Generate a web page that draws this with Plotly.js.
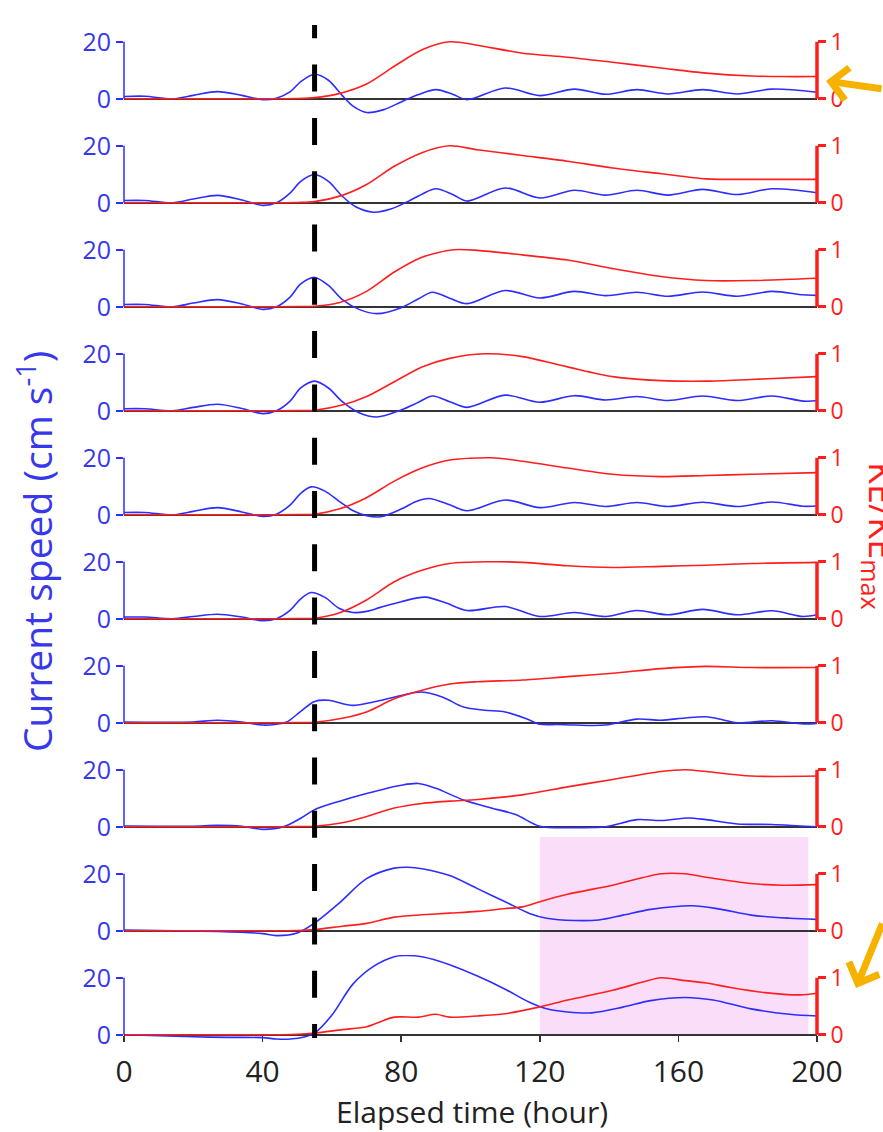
<!DOCTYPE html>
<html>
<head>
<meta charset="utf-8">
<script src="https://cdn.plot.ly/plotly-3.0.1.min.js"></script>
<style>
html,body{margin:0;padding:0;background:#fff;}
#chart{width:883px;height:1132px;}
</style>
</head>
<body>
<div id="chart"></div>
<script>
// ---------------- DATA ----------------
const xTickVals = [0, 40, 80, 120, 160, 200];
const speedTicks = [0, 20];
const keTicks = [0, 1];
const eventHour = 55;          // dashed line
const shadeStart = 120, shadeEnd = 197.5;  // shaded interval (bottom two panels)

// Panel 1
const p1SpeedT = [0,6,14,20,27,34,40,44,48,51,55,59,63,66,70,75,80,85,90,95,99,110,120,130,139,148,157,167,177,187,200];
const p1Speed  = [0.8,0.9,0,1.2,2.5,1.2,-0.3,0.2,2.5,6,8.6,6.5,1.1,-2.5,-4.8,-3.8,-1.1,1.5,3.2,1.5,-0.3,3.8,1.1,3.4,1.6,3.2,1.7,3.2,1.7,3.4,2.3];
const p1KET = [0,20,40,50,55,62,70,78,86,94,102,115,128,141,155,168,181,190,200];
const p1KE  = [0,0,0,0.005,0.02,0.09,0.26,0.57,0.86,1.0,0.94,0.8,0.73,0.64,0.54,0.45,0.40,0.39,0.39];
// Panel 2
const p2SpeedT = [0,6,14,20,27,34,40,44,48,51,55,59,63,67,72,77,82,86,90,95,99,110,120,130,139,148,157,167,177,187,200];
const p2Speed  = [0.8,0.8,0,1.3,2.6,1.0,-0.9,0.0,3.5,7.5,9.9,7.5,2.3,-1.5,-3.3,-2.2,0.5,3.0,4.9,2.8,0.6,5.2,1.7,4.4,2.7,4.4,2.7,4.7,2.9,4.9,3.5];
const p2KET = [0,20,40,50,55,63,70,78,86,94,102,115,128,141,155,168,181,200];
const p2KE  = [0,0,0,0.005,0.02,0.13,0.32,0.64,0.88,1.0,0.93,0.83,0.73,0.61,0.51,0.42,0.41,0.41];
// Panel 3
const p3SpeedT = [0,6,14,20,27,34,40,44,48,51,55,59,63,68,73,80,85,89,94,99,110,120,130,139,148,157,167,177,187,196,200];
const p3Speed  = [0.8,0.8,0,1.3,2.5,1.0,-0.9,0.0,3.5,8,10.3,7.5,2.5,-1.0,-2.4,-0.3,2.8,5.1,3.0,1.1,5.7,3.1,5.4,3.9,5.1,3.7,5.2,3.7,5.4,4.2,4.0];
const p3KET = [0,20,40,50,55,62,70,78,86,95,102,115,128,141,155,168,181,200];
const p3KE  = [0,0,0,0.005,0.01,0.07,0.27,0.61,0.87,1.0,0.99,0.91,0.82,0.67,0.53,0.46,0.46,0.5];
// Panel 4
const p4SpeedT = [0,6,14,20,27,34,40,44,48,51,55,59,63,68,73,80,85,89,94,99,110,120,130,139,148,157,167,177,187,196,200];
const p4Speed  = [0.7,0.7,0,1.2,2.3,0.8,-1.0,0.0,3.5,8,10.4,8,3.2,-0.8,-2.2,0.3,3.0,5.2,3.2,1.2,5.5,3.0,5.3,3.8,5.0,3.6,5.2,3.6,5.2,3.4,3.5];
const p4KET = [0,20,40,50,55,63,70,78,86,94,104,115,128,141,155,168,181,200];
const p4KE  = [0,0,0,0.005,0.01,0.1,0.25,0.51,0.77,0.92,1.0,0.95,0.77,0.6,0.53,0.52,0.55,0.6];
// Panel 5
const p5SpeedT = [0,6,14,20,27,34,40,44,48,51,54,58,62,66,70,74,80,84,88,94,99,110,120,130,139,148,157,167,177,187,196,200];
const p5Speed  = [0.8,0.8,0,1.2,2.5,1.0,-0.6,0.2,3.5,7.5,9.8,8.3,4.8,1.5,-0.3,-0.7,2.0,4.5,5.7,3.5,1.4,5.2,2.5,4.3,2.9,4.3,2.9,4.4,2.9,4.5,3.0,3.1];
const p5KET = [0,20,40,50,55,62,70,78,86,94,106,115,128,141,155,168,181,200];
const p5KE  = [0,0,0,0.005,0.01,0.1,0.3,0.59,0.82,0.96,1.0,0.94,0.82,0.71,0.67,0.69,0.71,0.74];
// Panel 6
const p6SpeedT = [0,6,14,20,27,34,40,44,48,51,54,58,62,66,70,74,80,87,93,99,110,120,130,139,148,157,167,177,187,196,200];
const p6Speed  = [0.6,0.6,0,0.8,1.6,0.6,-0.7,0.0,3.0,7.0,9.2,7.5,3.7,2.2,2.6,4.0,6.0,7.6,5.5,2.9,4.3,0.8,2.2,0.8,2.9,1.4,3.3,1.4,2.8,0.8,1.4];
const p6KET = [0,20,40,50,55,62,70,78,86,94,106,115,128,141,155,168,181,200];
const p6KE  = [0,0,0,0.005,0.01,0.1,0.33,0.65,0.85,0.97,1.0,0.99,0.93,0.9,0.92,0.94,0.97,0.99];
// Panel 7
const p7SpeedT = [0,10,20,27,34,40,44,47,51,55,59,66,72,80,86,92,98,104,110,116,120,125,130,139,148,155,162,168,173,177,187,196,200];
const p7Speed  = [0.3,0.2,0.3,0.9,0.3,-0.8,-0.5,0.3,4.0,7.5,7.9,6.1,7.3,9.6,10.8,9.0,5.5,4.4,3.8,1.5,-0.5,-0.6,-0.8,-0.8,1.3,0.9,1.7,2.1,1.0,0,0.7,-0.4,-0.2];
const p7KET = [0,20,40,50,55,63,70,78,86,94,102,115,128,141,155,168,181,200];
const p7KE  = [0,0,0,0.005,0.01,0.08,0.19,0.42,0.57,0.68,0.72,0.75,0.81,0.87,0.95,0.99,0.97,0.97];
// Panel 8
const p8SpeedT = [0,10,20,27,34,40,46,51,55,62,70,80,85,90,98,106,113,120,130,139,148,155,163,168,177,187,195,200];
const p8Speed  = [0.3,0.2,0.2,0.5,0.2,-0.9,0.0,3.0,6.0,8.9,11.7,14.6,15.2,13.5,9.4,6.6,4.3,0.2,-0.3,0,2.5,2.2,3.1,2.5,1.0,0.8,0.3,0];
const p8KET = [0,20,40,50,55,63,70,78,86,94,102,115,128,141,155,162,168,181,200];
const p8KE  = [0,0,0,0.005,0.01,0.07,0.18,0.33,0.41,0.45,0.48,0.56,0.7,0.83,0.97,1.0,0.97,0.89,0.89];
// Panel 9
const p9SpeedT = [0,10,20,27,34,40,44,50,55,62,70,78,82,86,94,102,110,117,122,130,137,144,152,164,172,181,192,200];
const p9Speed  = [0.3,0.1,-0.1,-0.2,-0.5,-1.0,-1.7,-0.8,2.7,9.6,18.3,22,22.3,21.8,19.4,14.8,10.2,6.1,4.4,3.6,3.8,5.5,7.5,8.8,7.6,5.5,4.4,4.0];
const p9KET = [0,20,40,50,55,63,70,78,86,94,102,110,115,120,128,141,155,162,168,181,190,200];
const p9KE  = [0,0,0,0.005,0.02,0.08,0.13,0.24,0.28,0.31,0.34,0.39,0.42,0.51,0.64,0.8,1.0,1.0,0.94,0.83,0.8,0.81];
// Panel 10
const p10SpeedT = [0,10,20,30,40,44,48,52,55,60,66,72,78,81,86,94,102,110,117,122,128,135,144,152,162,170,181,192,200];
const p10Speed  = [0,-0.3,-0.7,-0.9,-1.0,-1.5,-1.5,-0.8,0.6,6.9,17.7,24,27.4,27.8,27.4,24.6,20.6,16,11.4,9.1,8.0,7.7,9.7,12.0,13.1,12.2,9.1,7.2,6.6];
const p10KET = [0,20,40,50,55,63,70,74,78,85,90,94,102,110,120,128,141,150,155,162,168,175,185,195,200];
const p10KE  = [0,0,0,0.01,0.03,0.09,0.14,0.23,0.31,0.31,0.36,0.31,0.33,0.37,0.49,0.61,0.78,0.93,1.0,0.95,0.91,0.83,0.74,0.70,0.73];

// ---------------- BUILD ----------------
const panels = [
  [p1SpeedT,p1Speed,p1KET,p1KE],[p2SpeedT,p2Speed,p2KET,p2KE],[p3SpeedT,p3Speed,p3KET,p3KE],
  [p4SpeedT,p4Speed,p4KET,p4KE],[p5SpeedT,p5Speed,p5KET,p5KE],[p6SpeedT,p6Speed,p6KET,p6KE],
  [p7SpeedT,p7Speed,p7KET,p7KE],[p8SpeedT,p8Speed,p8KET,p8KE],[p9SpeedT,p9Speed,p9KET,p9KE],
  [p10SpeedT,p10Speed,p10KET,p10KE]
];

const BLUE = 'rgb(45,45,255)';
const BLUE_TXT = 'rgb(55,55,235)';
const RED = 'rgb(255,30,30)';
const FONT = 'Open Sans, sans-serif';
const N = panels.length;
const yLo = -8.5, yHi = 28;       // speed range per panel
const keScale = 20;               // KE 0..1 spans speed 0..20

const W = 883, H = 1132;
const mL = 124, mR = 66, mT = 19, mB = 73;
const plotH = H - mT - mB;
const xMin = 0, xMax = 200;

const traces = [];
const layout = {
  width: W, height: H,
  margin: {l: mL, r: mR, t: mT, b: mB},
  paper_bgcolor: '#ffffff',
  plot_bgcolor: 'rgba(0,0,0,0)',
  showlegend: false,
  font: {family: FONT},
  shapes: [], annotations: []
};

// paper y of the bottom panel's zero
const bottomZeroPaper = (0 - yLo) / (yHi - yLo) * (1 / N);

layout.xaxis = {
  range: [xMin, xMax], anchor: 'free', position: bottomZeroPaper,
  tickvals: xTickVals, ticks: 'outside', ticklen: 6, tickwidth: 1.5, tickcolor: '#333',
  ticklabelstandoff: 4,
  showline: false, showgrid: false, zeroline: false,
  tickfont: {size: 30, color: '#222', family: FONT},
  automargin: false
};

for (let i = 0; i < N; i++) {
  const k = i + 1;
  const dom = [1 - (i + 1) / N, 1 - i / N];
  const yl = k === 1 ? 'yaxis' : 'yaxis' + k;
  const yr = 'yaxis' + (k + N);
  const ylId = k === 1 ? 'y' : 'y' + k;
  const yrId = 'y' + (k + N);
  layout[yl] = {
    domain: dom, range: [yLo, yHi], anchor: 'x',
    tickvals: speedTicks, ticks: 'outside', ticklen: 7, tickwidth: 1.5, tickcolor: BLUE,
    tickfont: {size: 25, color: BLUE_TXT, family: FONT},
    showline: false, showgrid: false,
    zeroline: true, zerolinecolor: '#333', zerolinewidth: 1.5,
    automargin: false, fixedrange: true
  };
  layout[yr] = {
    overlaying: ylId, side: 'right', anchor: 'x',
    range: [yLo / keScale, yHi / keScale],
    tickvals: keTicks, ticks: 'outside', ticklen: 8, tickwidth: 3, tickcolor: RED,
    tickfont: {size: 23, color: RED, family: FONT},
    showline: false, showgrid: false, zeroline: false,
    automargin: false, fixedrange: true
  };
  // axis brackets
  layout.shapes.push({type: 'line', xref: 'paper', yref: ylId, x0: 0, x1: 0, y0: speedTicks[0], y1: speedTicks[1],
    line: {color: BLUE, width: 1.5}});
  layout.shapes.push({type: 'line', xref: 'paper', yref: yrId, x0: 1, x1: 1, y0: keTicks[0], y1: keTicks[1],
    line: {color: RED, width: 3.5}});

  const [st, sv, kt, kv] = panels[i];
  traces.push({x: kt, y: kv, xaxis: 'x', yaxis: yrId, type: 'scatter', mode: 'lines',
    line: {color: RED, width: 1.6, shape: 'spline', smoothing: 0.8}, hoverinfo: 'skip'});
  traces.push({x: st, y: sv, xaxis: 'x', yaxis: ylId, type: 'scatter', mode: 'lines',
    line: {color: BLUE, width: 1.6, shape: 'spline', smoothing: 0.9}, hoverinfo: 'skip'});
}

const toPaperX = v => (v - xMin) / (xMax - xMin);
const pxToPaperY = py => (H - mB - py) / plotH;
const pxToPaperX = px => (px - mL) / (W - mL - mR);

// shaded interval in bottom two panels
layout.shapes.push({type: 'rect', xref: 'paper', yref: 'paper',
  x0: toPaperX(shadeStart), x1: toPaperX(shadeEnd),
  y0: bottomZeroPaper, y1: pxToPaperY(837),
  fillcolor: 'rgb(249,221,249)', line: {width: 0}, layer: 'below'});

// dashed event line
let dash = ['14px'];
for (let j = 0; j < 25; j++) { dash.push('26.3px'); dash.push('27px'); }
layout.shapes.push({type: 'line', xref: 'paper', yref: 'paper',
  x0: toPaperX(eventHour), x1: toPaperX(eventHour),
  y0: pxToPaperY(1038), y1: pxToPaperY(25),
  line: {color: '#000', width: 5, dash: dash.join(',')}, layer: 'above'});

// titles
layout.annotations.push({text: 'Elapsed time (hour)', xref: 'paper', yref: 'paper',
  x: pxToPaperX(472), y: pxToPaperY(1111), xanchor: 'center', yanchor: 'middle', showarrow: false,
  font: {size: 30, color: '#222', family: FONT}});
layout.annotations.push({text: 'Current speed (cm s<sup>-1</sup>)', xref: 'paper', yref: 'paper',
  x: pxToPaperX(35), y: pxToPaperY(552), xanchor: 'center', yanchor: 'middle', textangle: -90, showarrow: false,
  font: {size: 39, color: BLUE_TXT, family: FONT}});
layout.annotations.push({text: 'KE/KE<sub>max</sub>', xref: 'paper', yref: 'paper',
  x: pxToPaperX(881), y: pxToPaperY(536), xanchor: 'center', yanchor: 'middle', textangle: 90, showarrow: false,
  font: {size: 36, color: RED, family: FONT}});

// orange arrows
layout.annotations.push({text: '', xref: 'paper', yref: 'paper', x: pxToPaperX(826), y: pxToPaperY(81),
  showarrow: true, ax: 75, ay: 8, arrowcolor: 'rgb(247,178,0)', arrowwidth: 7, arrowhead: 4, arrowsize: 0.9, standoff: 0});
layout.annotations.push({text: '', xref: 'paper', yref: 'paper', x: pxToPaperX(856), y: pxToPaperY(988),
  showarrow: true, ax: 50, ay: -66, arrowcolor: 'rgb(247,178,0)', arrowwidth: 7, arrowhead: 4, arrowsize: 0.9, standoff: 0});

Plotly.newPlot('chart', traces, layout, {displayModeBar: false, staticPlot: true});
</script>
</body>
</html>
